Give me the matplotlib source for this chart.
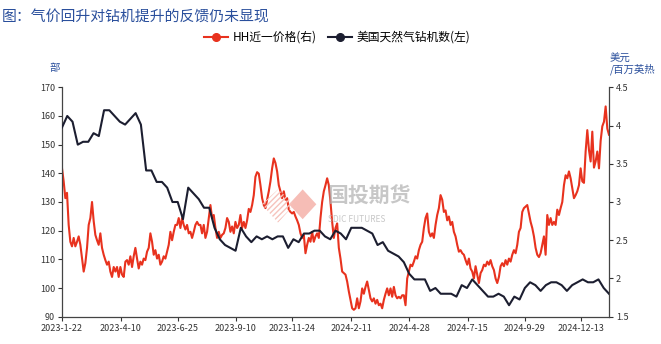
import numpy as np
import pandas as pd
import matplotlib
matplotlib.use("Agg")
import matplotlib.pyplot as plt
import matplotlib.dates as mdates
from matplotlib.patches import Polygon

plt.rcParams['font.family'] = ['Noto Sans CJK SC', 'DejaVu Sans']

# 美国天然气钻机数（周度，左轴）
rig_count = [156, 160, 158, 150, 151, 151, 154, 153, 162, 162,
             160, 158, 157, 159, 161, 157, 141, 141, 137, 137,
             135, 130, 130, 124, 135, 133, 131, 128, 128, 121,
             117, 115, 114, 113, 121, 118, 116, 118, 117, 118,
             117, 118, 118, 114, 117, 116, 119, 119, 120, 120,
             118, 117,
             120, 119, 117, 121, 121, 121, 120, 119, 115, 116,
             113, 112, 111, 109, 105, 103, 103, 103, 99, 100,
             98, 98, 98, 97, 101, 100, 103, 101, 99, 97,
             97, 98, 97, 94, 97, 96, 100, 102, 101, 99,
             101, 102, 102, 101, 99, 101, 102, 103, 102, 102,
             103, 100, 98]

# HH近一价格（右轴，美元/百万英热）
hh_price = [3.44, 3.27, 3.05, 3.12, 2.70, 2.48, 2.42, 2.53, 2.42, 2.48,
            2.55, 2.44, 2.26, 2.09, 2.20, 2.40, 2.70, 2.79, 3.00, 2.75,
            2.57, 2.50, 2.44, 2.59, 2.40, 2.31, 2.24, 2.18, 2.22, 2.09,
            2.02, 2.15, 2.09, 2.15, 2.02, 2.15, 2.05, 2.02, 2.22, 2.24,
            2.18, 2.29, 2.15, 2.29, 2.40, 2.26, 2.13, 2.22, 2.18, 2.26,
            2.24, 2.35, 2.40, 2.59, 2.48, 2.31, 2.37, 2.26, 2.31, 2.18,
            2.22, 2.29, 2.26, 2.35, 2.44, 2.61, 2.50, 2.61, 2.70, 2.70,
            2.79, 2.66, 2.79, 2.70, 2.64, 2.70, 2.59, 2.61, 2.53, 2.61,
            2.70, 2.74, 2.70,
            2.70, 2.59, 2.70, 2.53, 2.61, 2.79, 2.96, 2.79, 2.83, 2.66,
            2.53, 2.61, 2.53, 2.57, 2.59, 2.66, 2.79, 2.74, 2.61, 2.68,
            2.59, 2.74, 2.66, 2.70, 2.83, 2.66, 2.74, 2.66, 2.76, 2.91,
            2.87, 2.96, 3.09, 3.33, 3.39, 3.37, 3.22, 3.05, 2.96, 2.92,
            3.03, 3.14, 3.27, 3.44, 3.57, 3.51, 3.40, 3.22, 3.14, 3.05,
            3.14, 3.03, 3.05, 2.90, 2.87, 2.85, 2.87, 2.81, 2.76, 2.70,
            2.59, 2.53, 2.57, 2.33, 2.44, 2.53, 2.48, 2.61, 2.48, 2.55,
            2.59, 2.53, 2.79, 3.00, 3.14, 3.22, 3.31, 3.22, 3.00, 2.74,
            2.53, 2.66, 2.72, 2.40,
            2.26, 2.09, 2.07, 2.05, 1.96, 1.83, 1.72, 1.61, 1.59, 1.61,
            1.74, 1.61, 1.70, 1.87, 1.80, 1.89, 1.96, 1.85, 1.74, 1.70,
            1.74, 1.67, 1.72, 1.65, 1.67, 1.61, 1.72, 1.80, 1.87, 1.78,
            1.87, 1.76, 1.89, 1.78, 1.74, 1.76, 1.74, 1.78, 1.78, 1.65,
            2.00, 2.09, 2.18, 2.16, 2.22, 2.29, 2.26, 2.37, 2.44, 2.48,
            2.66, 2.79, 2.85, 2.61, 2.55, 2.59, 2.53, 2.70, 2.83, 2.92,
            3.09, 3.03, 2.87, 2.89, 2.76, 2.81, 2.70, 2.74, 2.61, 2.55,
            2.44, 2.35, 2.37, 2.33, 2.31, 2.24, 2.18, 2.26, 2.13, 2.09,
            2.00, 2.16, 2.05, 1.94,
            2.07, 2.11, 2.18, 2.16, 2.22, 2.18, 2.24, 2.16, 2.11, 2.00,
            1.94, 2.02, 2.16, 2.20, 2.16, 2.24, 2.18, 2.26, 2.22, 2.31,
            2.37, 2.33, 2.44, 2.61, 2.66, 2.87, 2.92, 2.94, 2.96, 2.85,
            2.74, 2.66, 2.55, 2.40, 2.31, 2.28, 2.33, 2.44, 2.55, 2.31,
            2.83, 2.70, 2.79, 2.70, 2.74, 2.70, 2.90, 2.83, 2.92, 3.00,
            3.22, 3.35, 3.31, 3.40, 3.31, 3.18, 3.05, 3.09, 3.14, 3.22,
            3.44, 3.27, 3.25, 3.66, 3.94, 3.68, 3.53, 3.92, 3.45, 3.53,
            3.66, 3.44, 3.80, 3.99, 4.05, 4.25, 3.96, 3.88]

tick_labels = ['2023-1-22', '2023-4-10', '2023-6-25', '2023-9-10', '2023-11-24',
               '2024-2-11', '2024-4-28', '2024-7-15', '2024-9-29', '2024-12-13']

start = pd.Timestamp('2023-01-22')
end = pd.Timestamp('2025-01-19')
rig_dates = pd.date_range(start, periods=len(rig_count), freq='7D')
price_dates = pd.date_range(start, end, periods=len(hh_price))

red = '#e8321e'
dark = '#1c1e30'
blue = '#2a4f9c'

fig = plt.figure(figsize=(6.61, 3.44), dpi=100)
ax = fig.add_axes([0.0938, 0.0794, 0.8275, 0.6668])
ax2 = ax.twinx()

ax.plot(rig_dates, rig_count, color=dark, lw=1.5, zorder=3)
ax2.plot(price_dates, hh_price, color=red, lw=1.5, zorder=2)
ax.set_zorder(ax2.get_zorder() + 1)
ax.patch.set_visible(False)

ax.set_ylim(90, 170)
ax.set_yticks(range(90, 171, 10))
ax2.set_ylim(1.5, 4.5)
ax2.set_yticks([1.5, 2, 2.5, 3, 3.5, 4, 4.5])
ax2.set_yticklabels(['1.5', '2', '2.5', '3', '3.5', '4', '4.5'])
ax.set_xlim(start, end)
ax.set_xticks([pd.Timestamp(t) for t in tick_labels])
ax.set_xticklabels(tick_labels)

for a in (ax, ax2):
    for s in a.spines.values():
        s.set_color('#444444')
        s.set_linewidth(0.9)
    a.spines['top'].set_visible(False)
    a.tick_params(labelsize=6.5, colors='#333333', length=3, width=0.8, pad=2)
ax.spines['right'].set_visible(False)
ax2.spines['left'].set_visible(False)
ax2.spines['bottom'].set_visible(False)

# 水印
ax.text(0.485, 0.525, '国投期货', transform=ax.transAxes, fontsize=15,
        color='#b0b0b0', alpha=0.7, ha='left', va='center', fontweight='bold', zorder=1)
ax.text(0.487, 0.425, 'SDIC FUTURES', transform=ax.transAxes, fontsize=6,
        color='#b0b0b0', alpha=0.7, ha='left', va='center', zorder=1)
dia = Polygon([(0.44, 0.555), (0.465, 0.49), (0.44, 0.425), (0.415, 0.49)],
              closed=True, transform=ax.transAxes, color='#f3a79e', alpha=0.75, lw=0, zorder=1)
ax.add_patch(dia)
dia2 = Polygon([(0.395, 0.555), (0.425, 0.49), (0.395, 0.41), (0.365, 0.49)],
               closed=True, transform=ax.transAxes, facecolor='none', edgecolor='#f6c3bc',
               hatch='//////', lw=0, zorder=1)
ax.add_patch(dia2)

fig.text(0.003, 0.95, '图：气价回升对钻机提升的反馈仍未显现', fontsize=10.7, color=blue,
         ha='left', va='center')
fig.text(0.083, 0.802, '部', fontsize=7.5, color=blue, ha='center', va='center')
fig.text(0.922, 0.814, '美元\n/百万英热', fontsize=7.5, color=blue, ha='left', va='center',
         linespacing=0.95)

h1, = ax.plot([], [], color=red, lw=1.5, marker='o', ms=5.5)
h2, = ax.plot([], [], color=dark, lw=1.5, marker='o', ms=5.5)
fig.legend([h1, h2], ['HH近一价格(右)', '美国天然气钻机数(左)'], loc='center',
           bbox_to_anchor=(0.51, 0.892), ncol=2, frameon=False, fontsize=8.5,
           handlelength=2.0, columnspacing=1.0, handletextpad=0.4)

fig.savefig('out.png', dpi=100)
